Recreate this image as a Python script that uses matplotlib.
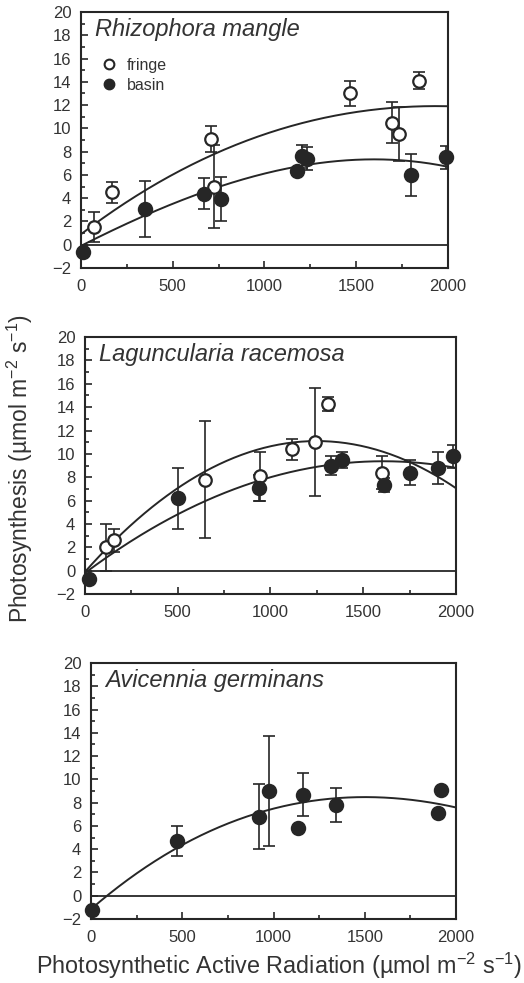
import numpy as np
import matplotlib
matplotlib.use("Agg")
import matplotlib.pyplot as plt
from matplotlib.lines import Line2D

plt.rcParams['font.family'] = ['Liberation Sans', 'DejaVu Sans']
plt.rcParams['mathtext.default'] = 'regular'

ink = '#262626'
txt = '#333333'

# Rhizophora mangle
rm_fringe_x = [73, 171, 709, 724, 1464, 1696, 1733, 1845]
rm_fringe_y = [1.5, 4.5, 9.1, 5.0, 13.0, 10.5, 9.5, 14.1]
rm_fringe_e = [1.3, 0.9, 1.1, 3.6, 1.1, 1.8, 2.3, 0.7]
rm_basin_x = [13, 349, 671, 764, 1178, 1207, 1231, 1800, 1989]
rm_basin_y = [-0.6, 3.1, 4.4, 3.9, 6.3, 7.6, 7.4, 6.0, 7.5]
rm_basin_e = [0.2, 2.4, 1.3, 1.9, 0.3, 1.0, 1.0, 1.8, 1.0]
# fitted curves, coefficients in powers of PAR/1000 (lowest first)
rm_fringe_fit = [0.9, 12.0, -3.58, 0.165]
rm_basin_fit = [-0.1, 8.0, -1.28, -0.51]

# Laguncularia racemosa
lr_fringe_x = [113, 159, 645, 942, 1114, 1240, 1312, 1600]
lr_fringe_y = [2.0, 2.6, 7.8, 8.1, 10.4, 11.0, 14.3, 8.4]
lr_fringe_e = [2.0, 1.0, 5.0, 2.1, 0.9, 4.6, 0.6, 1.4]
lr_basin_x = [23, 501, 939, 1326, 1387, 1614, 1753, 1903, 1984]
lr_basin_y = [-0.7, 6.2, 7.1, 9.0, 9.5, 7.3, 8.4, 8.8, 9.8]
lr_basin_e = [0.2, 2.6, 1.1, 0.8, 0.7, 0.6, 1.1, 1.35, 1.0]
lr_fringe_fit = [-0.1, 17.92, -7.17]
lr_basin_fit = [-0.2, 11.9, -3.7]

# Avicennia germinans
ag_basin_x = [7, 469, 922, 974, 1132, 1163, 1342, 1903, 1918]
ag_basin_y = [-1.2, 4.7, 6.8, 9.0, 5.8, 8.7, 7.8, 7.1, 9.1]
ag_basin_e = [0.0, 1.3, 2.8, 4.7, 0.0, 1.85, 1.5, 0.0, 0.0]
ag_basin_fit = [-1.15, 13.58, -5.28, 0.337]

x_ticks = [0, 500, 1000, 1500, 2000]
y_ticks = list(range(-2, 21, 2))

fig = plt.figure(figsize=(5.24, 9.83), dpi=100)

panels = [
    ([0.1546, 0.7274, 0.700, 0.2604], 'Rhizophora mangle',
     [(rm_fringe_x, rm_fringe_y, rm_fringe_e, rm_fringe_fit, True),
      (rm_basin_x, rm_basin_y, rm_basin_e, rm_basin_fit, False)]),
    ([0.1622, 0.3957, 0.708, 0.2614], 'Laguncularia racemosa',
     [(lr_fringe_x, lr_fringe_y, lr_fringe_e, lr_fringe_fit, True),
      (lr_basin_x, lr_basin_y, lr_basin_e, lr_basin_fit, False)]),
    ([0.1737, 0.0651, 0.6966, 0.2604], 'Avicennia germinans',
     [(ag_basin_x, ag_basin_y, ag_basin_e, ag_basin_fit, False)]),
]

xx = np.linspace(0, 2000, 200)
for i, (rect, title, series) in enumerate(panels):
    ax = fig.add_axes(rect)
    ax.axhline(0, color=ink, lw=1.3, zorder=1)
    for sx, sy, se, fit, is_open in series:
        ax.plot(xx, np.polynomial.polynomial.polyval(xx / 1000, fit), color=ink, lw=1.4, zorder=2)
    for sx, sy, se, fit, is_open in series:
        ax.errorbar(sx, sy, yerr=se, fmt='none', ecolor=ink, elinewidth=1.2,
                    capsize=4, capthick=1.2, zorder=3)
        ax.plot(sx, sy, 'o', ms=9 if is_open else 9.5, mfc='white' if is_open else ink,
                mec=ink, mew=1.6, ls='none', zorder=4, clip_on=False)
    ax.set_xlim(0, 2000)
    ax.set_ylim(-2, 20)
    ax.set_xticks(x_ticks)
    ax.set_xticks([250, 750, 1250, 1750], minor=True)
    ax.set_yticks(y_ticks)
    ax.set_yticks(list(range(-1, 20, 2)), minor=True)
    ax.tick_params(which='both', direction='in', colors=ink, labelcolor=txt,
                   labelsize=12, width=1.2)
    ax.tick_params(which='major', length=5)
    ax.tick_params(which='minor', length=3)
    ax.tick_params(axis='x', pad=8)
    ax.tick_params(axis='y', pad=7)
    for s in ax.spines.values():
        s.set_color(ink)
        s.set_linewidth(1.5)
    ax.text(0.038, 0.905, title, transform=ax.transAxes, fontsize=17,
            style='italic', color=txt, va='baseline')
    if i == 0:
        handles = [Line2D([], [], marker='o', ls='none', ms=7, mfc='white', mec=ink, mew=1.5),
                   Line2D([], [], marker='o', ls='none', ms=7.5, mfc=ink, mec=ink)]
        ax.legend(handles, ['fringe', 'basin'], loc='upper left', bbox_to_anchor=(0.055, 0.82),
                  frameon=False, fontsize=11.5, handlelength=1, handletextpad=0.6,
                  labelspacing=0.3, borderaxespad=0, borderpad=0, labelcolor=txt)

fig.text(0.038, 1 - 469 / 983, 'Photosynthesis (µmol m$^{-2}$ s$^{-1}$)', rotation=90,
         ha='center', va='center', fontsize=16.5, color=txt)
fig.text(0.532, 0.0175, 'Photosynthetic Active Radiation (µmol m$^{-2}$ s$^{-1}$)',
         ha='center', va='center', fontsize=16.8, color=txt)

fig.savefig('out.png', dpi=100)
